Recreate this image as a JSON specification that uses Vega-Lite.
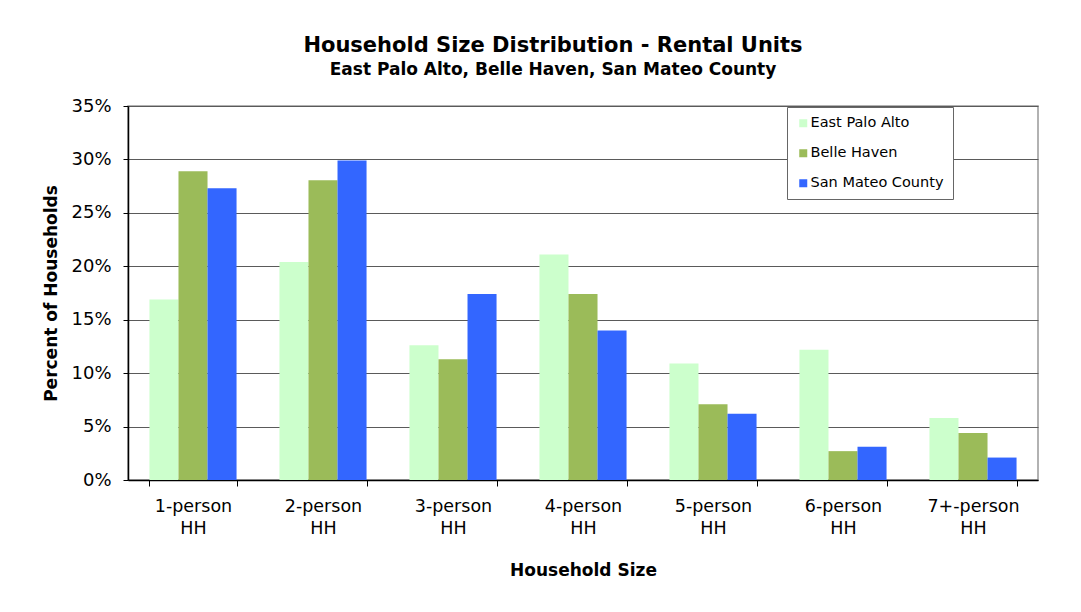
{
  "$schema": "https://vega.github.io/schema/vega-lite/v6.json",
  "width": 910,
  "height": 374,
  "autosize": "none",
  "padding": {"left": 128, "top": 106, "right": 43, "bottom": 132},
  "background": "white",
  "title": {
    "text": "Household Size Distribution - Rental Units",
    "subtitle": "East Palo Alto, Belle Haven, San Mateo County",
    "anchor": "middle",
    "frame": "group",
    "dx": -30,
    "offset": 19,
    "font": "DejaVu Sans",
    "fontSize": 21,
    "fontWeight": "bold",
    "color": "#000000",
    "subtitleFont": "DejaVu Sans",
    "subtitleFontSize": 17,
    "subtitleFontWeight": "bold",
    "subtitleColor": "#000000",
    "subtitlePadding": 6
  },
  "data": {
    "values": [
      {"size": "1-person HH", "area": "East Palo Alto", "pct": 16.9},
      {"size": "1-person HH", "area": "Belle Haven", "pct": 28.9},
      {"size": "1-person HH", "area": "San Mateo County", "pct": 27.3},
      {"size": "2-person HH", "area": "East Palo Alto", "pct": 20.4},
      {"size": "2-person HH", "area": "Belle Haven", "pct": 28.05},
      {"size": "2-person HH", "area": "San Mateo County", "pct": 29.9},
      {"size": "3-person HH", "area": "East Palo Alto", "pct": 12.6},
      {"size": "3-person HH", "area": "Belle Haven", "pct": 11.3},
      {"size": "3-person HH", "area": "San Mateo County", "pct": 17.4},
      {"size": "4-person HH", "area": "East Palo Alto", "pct": 21.1},
      {"size": "4-person HH", "area": "Belle Haven", "pct": 17.4},
      {"size": "4-person HH", "area": "San Mateo County", "pct": 14.0},
      {"size": "5-person HH", "area": "East Palo Alto", "pct": 10.9},
      {"size": "5-person HH", "area": "Belle Haven", "pct": 7.1},
      {"size": "5-person HH", "area": "San Mateo County", "pct": 6.2},
      {"size": "6-person HH", "area": "East Palo Alto", "pct": 12.2},
      {"size": "6-person HH", "area": "Belle Haven", "pct": 2.7},
      {"size": "6-person HH", "area": "San Mateo County", "pct": 3.1},
      {"size": "7+-person HH", "area": "East Palo Alto", "pct": 5.8},
      {"size": "7+-person HH", "area": "Belle Haven", "pct": 4.4},
      {"size": "7+-person HH", "area": "San Mateo County", "pct": 2.1}
    ]
  },
  "mark": {"type": "bar"},
  "encoding": {
    "x": {
      "field": "size",
      "type": "nominal",
      "sort": null,
      "scale": {"paddingInner": 0.33, "paddingOuter": 0.165},
      "axis": {
        "title": "Household Size",
        "titleFont": "DejaVu Sans",
        "titleFontSize": 17,
        "titleFontWeight": "bold",
        "titleColor": "#000000",
        "titlePadding": 26,
        "labelAngle": 0,
        "labelFont": "DejaVu Sans",
        "labelFontSize": 17.5,
        "labelColor": "#000000",
        "labelPadding": 11,
        "labelLineHeight": 22,
        "labelExpr": "split(datum.label, ' ')",
        "tickBand": "extent",
        "tickSize": 6,
        "tickColor": "#000000",
        "domainColor": "#000000",
        "domainWidth": 1.5,
        "grid": false
      }
    },
    "xOffset": {
      "field": "area",
      "type": "nominal",
      "sort": ["East Palo Alto", "Belle Haven", "San Mateo County"],
      "scale": {"paddingInner": 0, "paddingOuter": 0}
    },
    "y": {
      "field": "pct",
      "type": "quantitative",
      "scale": {"domain": [0, 35], "nice": false},
      "axis": {
        "title": "Percent of Households",
        "titleFont": "DejaVu Sans",
        "titleFontSize": 17,
        "titleFontWeight": "bold",
        "titleColor": "#000000",
        "titlePadding": 10,
        "values": [0, 5, 10, 15, 20, 25, 30, 35],
        "labelExpr": "datum.value + '%'",
        "labelFont": "DejaVu Sans",
        "labelFontSize": 18,
        "labelColor": "#000000",
        "labelPadding": 12,
        "tickSize": 5,
        "tickColor": "#000000",
        "domainColor": "#000000",
        "domainWidth": 1.5,
        "grid": true,
        "gridColor": "#5a5a5a",
        "gridWidth": 1.2
      }
    },
    "color": {
      "field": "area",
      "type": "nominal",
      "sort": ["East Palo Alto", "Belle Haven", "San Mateo County"],
      "scale": {
        "domain": ["East Palo Alto", "Belle Haven", "San Mateo County"],
        "range": ["#CCFFCC", "#9BBB59", "#3366FF"]
      },
      "legend": {
        "title": null,
        "orient": "none",
        "legendX": 659,
        "legendY": 1,
        "symbolType": "square",
        "symbolSize": 64,
        "symbolStrokeWidth": 0,
        "labelFont": "DejaVu Sans",
        "labelFontSize": 14.5,
        "labelColor": "#000000",
        "labelOffset": 0,
        "rowPadding": 15,
        "padding": 9,
        "strokeColor": "#666666",
        "fillColor": "#ffffff",
        "cornerRadius": 0
      }
    }
  },
  "config": {
    "view": {"stroke": "#999999", "strokeWidth": 1.5},
    "font": "DejaVu Sans"
  }
}
